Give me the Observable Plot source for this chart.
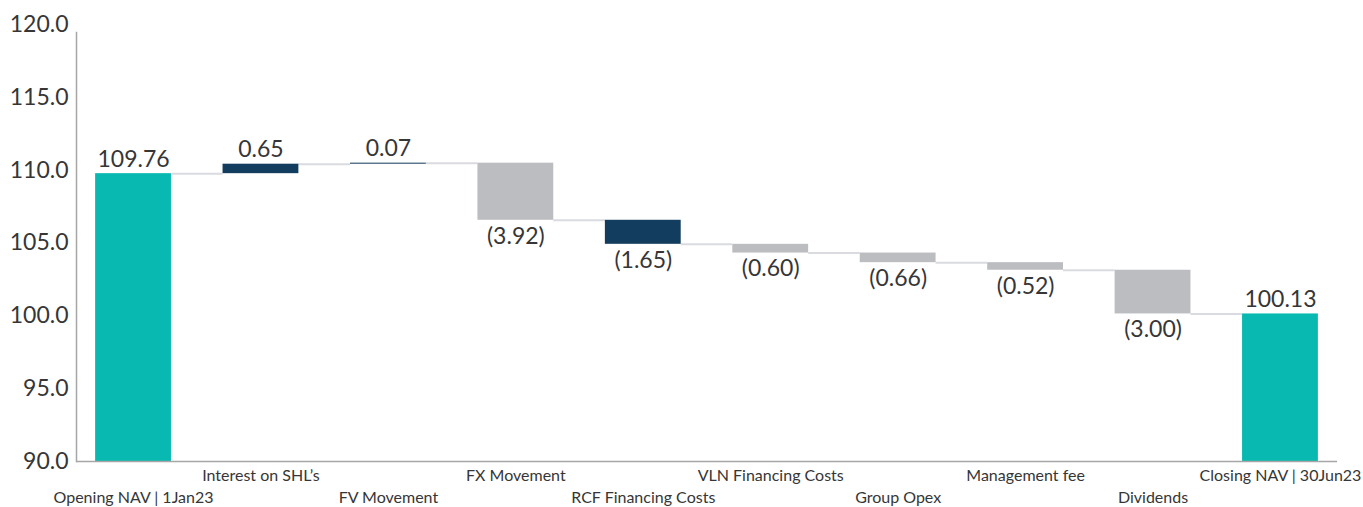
<!DOCTYPE html>
<html>
<head>
<meta charset="utf-8">
<script src="https://cdn.jsdelivr.net/npm/d3@7"></script>
<script src="https://cdn.jsdelivr.net/npm/@observablehq/plot@0.6"></script>
<style>
  html, body { margin: 0; padding: 0; background: #fff; }
  #chart svg { display: block; }
</style>
</head>
<body>
<div id="chart"></div>
<script>
const categories = [
  "Opening NAV | 1Jan23",
  "Interest on SHL’s",
  "FV Movement",
  "FX Movement",
  "RCF Financing Costs",
  "VLN Financing Costs",
  "Group Opex",
  "Management fee",
  "Dividends",
  "Closing NAV | 30Jun23"
];
const values = [109.76, 0.65, 0.07, -3.92, -1.65, -0.60, -0.66, -0.52, -3.00, 100.13];
const isTotal = [true, false, false, false, false, false, false, false, false, true];
const groups = ["NAV", "Finance", "Finance", "Other", "Finance", "Other", "Other", "Other", "Other", "NAV"];
const yTicks = [90, 95, 100, 105, 110, 115, 120];

const W = 1363, H = 507;
const mL = 76, mR = 26, mT = 24, mB = 46;
const padIn = 0.405, padOut = 0.15;
const yMin = 90, yMax = 120;

// waterfall table
let running = 0;
const rows = categories.map((name, i) => {
  let y1, y2;
  if (isTotal[i]) { y1 = yMin; y2 = values[i]; running = values[i]; }
  else { y1 = running; y2 = running + values[i]; running = y2; }
  const v = values[i];
  return {
    name, v, y1, y2, group: groups[i], total: isTotal[i],
    level: running,
    label: v >= 0 ? v.toFixed(2) : `(${(-v).toFixed(2)})`,
    labelY: (v >= 0) ? Math.max(y1, y2) : Math.min(y1, y2),
    up: v >= 0
  };
});
const connectors = rows.slice(0, -1);

// band geometry (derived from scale options) for connectors
const step = (W - mL - mR) / (categories.length - padIn + 2 * padOut);
const bw = step * (1 - padIn);

const font = "Lato, 'Open Sans', sans-serif";
const textColor = "#363636";
const fw = 400;

const chart = Plot.plot({
  width: W, height: H,
  marginLeft: mL, marginRight: mR, marginTop: mT, marginBottom: mB,
  style: { fontFamily: font, color: textColor, background: "#fff" },
  x: { domain: categories, paddingInner: padIn, paddingOuter: padOut, round: false, axis: null },
  y: { domain: [yMin, yMax], axis: null },
  color: { domain: ["NAV", "Finance", "Other"], range: ["#08b9b1", "#133d5e", "#bcbdc1"] },
  marks: [
    Plot.axisY(yTicks, { tickSize: 0, tickPadding: 8, fontSize: 23, fontWeight: fw, tickFormat: d3.format(".1f"), label: null, fill: textColor }),
    Plot.axisX(categories.filter((d, i) => i % 2 === 1), { tickSize: 0, tickPadding: 8, fontSize: 16, fontWeight: fw, label: null, fill: textColor }),
    Plot.axisX(categories.filter((d, i) => i % 2 === 0), { tickSize: 0, tickPadding: 30, fontSize: 16, fontWeight: fw, label: null, fill: textColor }),
    Plot.tickY(connectors, {
      x: "name", y: "level", stroke: "#d9dbe0", strokeWidth: 2,
      dx: step / 2, insetLeft: bw - step / 2, insetRight: bw - step / 2
    }),
    Plot.barY(rows, { x: "name", y1: "y1", y2: "y2", fill: "group" }),
    Plot.ruleY([yMin], { stroke: "#a6a6a6", strokeWidth: 1.5 }),
    Plot.frame({ anchor: "left", stroke: "#a6a6a6", strokeWidth: 1.5, insetTop: 8 }),
    Plot.text(rows.filter(d => d.up), {
      x: "name", y: "labelY", text: "label", lineAnchor: "bottom", dy: -7,
      fontSize: 23, fontWeight: fw, fill: textColor
    }),
    Plot.text(rows.filter(d => !d.up), {
      x: "name", y: "labelY", text: "label", lineAnchor: "top", dy: 7,
      fontSize: 23, fontWeight: fw, fill: textColor
    })
  ]
});
document.getElementById("chart").appendChild(chart);
</script>
</body>
</html>
